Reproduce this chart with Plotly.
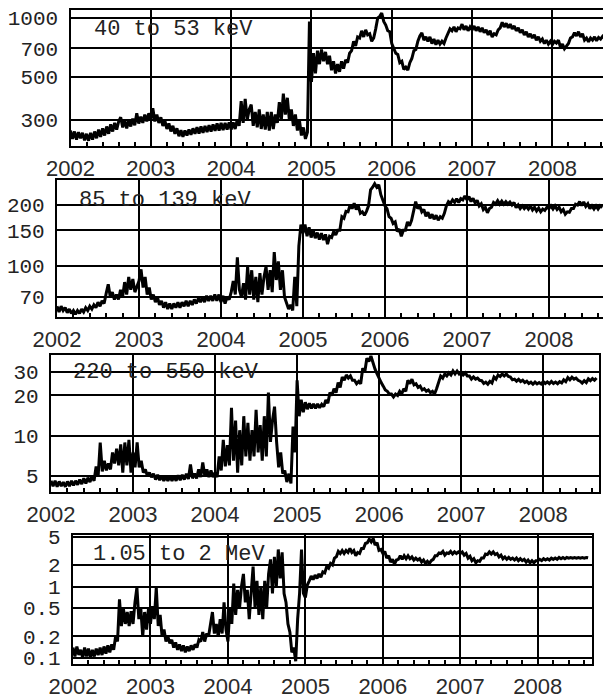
import numpy as np
import plotly.graph_objects as go

# Electron flux time series, 40 samples per year starting 2002.0
SAMPLES_PER_YEAR = 40

flux_40_53keV = [
    # 2002
    265, 240, 262, 238, 260, 242, 258, 236, 255, 235,
    258, 238, 262, 242, 268, 246, 272, 250, 278, 255,
    285, 262, 290, 268, 295, 310, 275, 298, 272, 300,
    278, 305, 282, 325, 288, 312, 290, 320, 295, 325,
    # 2003
    300, 345, 295, 320, 290, 310, 280, 298, 270, 288,
    262, 280, 255, 272, 248, 266, 246, 265, 250, 268,
    252, 272, 255, 276, 256, 278, 258, 280, 260, 282,
    262, 285, 264, 288, 265, 290, 266, 290, 268, 292,
    # 2004
    268, 292, 270, 300, 280, 375, 290, 385, 300, 340,
    360, 280, 330, 275, 340, 270, 320, 268, 330, 265,
    330, 270, 320, 290, 370, 300, 410, 320, 390, 300,
    340, 280, 320, 265, 300, 250, 275, 240, 260, 960,
    # 2005
    470, 660, 520, 680, 580, 690, 600, 670, 580, 640,
    540, 600, 520, 580, 530, 600, 550, 610, 590, 660,
    680, 760, 720, 800, 790, 860, 800, 870, 820, 830,
    760, 790, 880, 1000, 1020, 1060, 960, 920, 860, 850,
    # 2006
    740, 700, 660, 650, 590, 600, 545, 560, 540, 590,
    620, 680, 690, 760, 810, 840, 770, 800, 760, 800,
    740, 780, 730, 770, 735, 760, 740, 790, 830, 880,
    860, 900, 850, 890, 880, 930, 870, 910, 860, 900,
    # 2007
    870, 910, 860, 900, 850, 890, 840, 870, 820, 860,
    800, 830, 820, 870, 890, 950, 900, 940, 890, 930,
    880, 910, 860, 890, 840, 870, 820, 850, 800, 830,
    790, 820, 770, 800, 760, 780, 740, 770, 735, 760,
    # 2008
    730, 760, 745, 770, 710, 735, 695, 720, 740, 790,
    800, 840, 810, 850, 800, 830, 770, 790, 755, 790,
    770, 800, 765, 795, 780, 805, 785,
]

flux_85_139keV = [
    # 2002
    63, 59, 63, 60, 62, 58.5, 61, 58, 60, 57.5,
    60, 58, 61, 59, 62, 60, 63, 61, 64, 62,
    66, 63, 67, 65, 73, 81, 70, 74, 68, 72,
    68, 76, 70, 83, 72, 88, 76, 86, 74, 80,
    # 2003
    84, 96, 78, 88, 72, 78, 68, 72, 66, 70,
    64, 67, 62, 66, 61, 65, 61, 65, 62, 66,
    62, 66, 63, 67, 63, 67, 64, 68, 65, 69,
    66, 70, 66, 71, 67, 71, 67, 72, 67, 72,
    # 2004
    66, 71, 65, 70, 68, 74, 84, 72, 110, 76,
    70, 82, 68, 99, 72, 95, 68, 88, 66, 92,
    72, 88, 99, 76, 95, 74, 117, 85, 105, 76,
    95, 70, 66, 61, 64, 60, 88, 63, 125, 160,
    # 2005
    145, 160, 140, 155, 138, 150, 137, 146, 135, 145,
    134, 143, 128, 140, 138, 148, 142, 150, 150, 175,
    172, 186, 185, 200, 192, 204, 190, 198, 182, 185,
    178, 186, 198, 238, 245, 255, 245, 252, 225, 210,
    # 2006
    198, 192, 175, 172, 162, 165, 148, 152, 140, 150,
    150, 165, 158, 168, 188, 208, 192, 198, 185, 190,
    176, 184, 172, 180, 170, 178, 168, 175, 172, 182,
    198, 208, 204, 212, 206, 215, 206, 215, 212, 222,
    # 2007
    212, 220, 208, 216, 205, 211, 198, 203, 190, 195,
    183, 192, 195, 206, 202, 210, 202, 209, 202, 208,
    202, 207, 200, 206, 194, 200, 192, 198, 192, 197,
    191, 198, 189, 195, 187, 193, 185, 191, 188, 195,
    # 2008
    192, 198, 191, 198, 190, 195, 185, 190, 180, 185,
    184, 192, 192, 202, 200, 208, 199, 207, 197, 203,
    192, 198, 191, 198, 191, 198, 194,
]

flux_220_550keV = [
    # 2002
    4.6, 4.2, 4.6, 4.15, 4.55, 4.2, 4.5, 4.15, 4.55, 4.2,
    4.6, 4.25, 4.6, 4.3, 4.7, 4.35, 4.8, 4.4, 4.85, 4.5,
    5.0, 4.6, 5.9, 5.0, 8.9, 5.4, 6.5, 5.5, 6.2, 5.6,
    7.5, 6.2, 8.0, 6.0, 8.6, 5.3, 8.9, 6.0, 9.3, 5.3,
    # 2003
    7.5, 5.8, 8.9, 5.8, 6.5, 5.3, 5.6, 5.0, 5.3, 4.9,
    5.2, 4.7, 5.1, 4.65, 5.0, 4.6, 4.95, 4.6, 5.0, 4.6,
    5.0, 4.6, 5.05, 4.65, 5.1, 4.7, 5.2, 4.75, 6.1, 4.8,
    5.2, 4.8, 5.6, 4.9, 6.3, 5.0, 5.6, 4.9, 5.5, 4.9,
    # 2004
    5.3, 4.9, 7.0, 5.5, 9.3, 5.9, 8.5, 6.0, 16.2, 6.5,
    13.0, 5.3, 11.0, 6.0, 14.0, 7.0, 12.5, 6.5, 11.0, 7.0,
    15.6, 7.5, 12.0, 6.5, 14.0, 7.0, 21.0, 9.0, 13.0, 16.5,
    9.0, 5.8, 7.5, 5.2, 5.5, 4.5, 5.2, 4.4, 11.7, 7.5,
    # 2005
    26.0, 14.0, 18.6, 15.0, 17.8, 15.8, 17.5, 16.0, 17.3, 16.0,
    17.3, 16.2, 17.2, 16.5, 18.5, 17.5, 21.0, 20.0, 22.5, 21.0,
    25.0, 23.0, 27.5, 26.0, 28.5, 27.0, 28.0, 26.0, 26.0, 24.5,
    25.5, 24.5, 32.0, 30.0, 38.0, 36.0, 39.5, 35.0, 31.5, 29.0,
    # 2006
    26.5, 25.0, 23.5, 22.0, 21.5, 20.5, 20.5, 19.5, 20.5, 20.0,
    21.5, 20.5, 22.5, 21.5, 26.0, 24.5, 26.5, 24.0, 24.5, 23.0,
    23.5, 22.0, 22.5, 21.5, 22.0, 21.0, 21.5, 20.5, 22.5, 25.5,
    28.0, 27.0, 29.0, 28.0, 29.5, 28.5, 30.5, 29.0, 30.5, 29.0,
    # 2007
    30.0, 28.5, 29.5, 28.0, 28.0, 26.5, 27.5, 26.5, 27.0, 26.0,
    25.8, 24.6, 25.2, 24.3, 25.5, 24.8, 27.5, 26.5, 28.5, 27.8,
    29.0, 28.0, 29.0, 27.8, 27.5, 26.2, 26.5, 25.6, 26.4, 25.4,
    26.0, 25.0, 25.6, 24.6, 25.2, 24.3, 25.2, 24.4, 25.0, 24.4,
    # 2008
    25.4, 24.6, 25.3, 24.5, 25.5, 24.6, 25.2, 24.5, 25.4, 24.8,
    26.2, 25.4, 27.2, 26.2, 27.4, 26.5, 27.0, 26.0, 25.6, 24.8,
    25.8, 25.0, 26.6, 25.8, 26.8, 26.0, 27.0,
]

flux_1_05_2MeV = [
    # 2002
    0.14, 0.105, 0.145, 0.11, 0.13, 0.1, 0.14, 0.105, 0.135, 0.1,
    0.13, 0.105, 0.135, 0.11, 0.14, 0.11, 0.145, 0.115, 0.15, 0.12,
    0.155, 0.13, 0.2, 0.17, 0.66, 0.28, 0.5, 0.3, 0.44, 0.28,
    0.45, 0.3, 0.6, 0.97, 0.35, 0.5, 0.2, 0.44, 0.25, 0.5,
    # 2003
    0.3, 0.53, 0.35, 0.97, 0.28, 0.4, 0.2, 0.25, 0.17, 0.2,
    0.16, 0.18, 0.14, 0.165, 0.13, 0.155, 0.125, 0.15, 0.12, 0.145,
    0.125, 0.15, 0.13, 0.155, 0.14, 0.18, 0.17, 0.23, 0.17, 0.22,
    0.2, 0.3, 0.44, 0.22, 0.3, 0.2, 0.35, 0.22, 0.6, 0.25,
    # 2004
    0.17, 0.5, 0.3, 1.1, 0.4, 0.9, 0.5, 1.0, 1.5, 0.6,
    0.9, 0.35, 0.8, 1.9, 0.5, 1.2, 0.4, 1.0, 0.35, 1.2,
    0.5, 1.5, 2.4, 0.8, 2.6, 1.0, 3.3, 1.3, 3.0, 0.8,
    0.6, 0.3, 0.23, 0.12, 0.14, 0.09, 0.35, 0.8, 3.3, 0.8,
    # 2005
    0.7, 1.05, 1.2, 1.4, 1.25, 1.45, 1.3, 1.5, 1.35, 1.6,
    1.55, 1.9, 1.8, 2.1, 2.0, 2.5, 2.6, 3.1, 2.9, 3.2,
    2.9, 3.2, 3.0, 3.4, 3.0, 3.2, 2.7, 3.0, 2.9, 3.4,
    3.4, 4.0, 4.1, 4.6, 4.2, 4.7, 3.8, 4.1, 3.2, 3.3,
    # 2006
    2.9, 3.1, 2.5, 2.7, 2.2, 2.4, 2.05, 2.35, 2.4, 2.7,
    2.4, 2.7, 2.45, 2.7, 2.45, 2.6, 2.35, 2.5, 2.35, 2.45,
    2.2, 2.35, 2.1, 2.25, 2.1, 2.3, 2.4, 2.7, 2.7, 2.95,
    2.9, 3.1, 2.75, 2.95, 2.9, 3.1, 2.85, 3.05, 2.9, 3.05,
    # 2007
    2.9, 3.05, 2.75, 2.9, 2.5, 2.65, 2.3, 2.45, 2.15, 2.3,
    2.25, 2.5, 2.5, 2.85, 2.8, 3.05, 2.85, 3.05, 2.8, 2.9,
    2.6, 2.75, 2.45, 2.6, 2.4, 2.55, 2.4, 2.5, 2.35, 2.5,
    2.3, 2.45, 2.3, 2.4, 2.2, 2.35, 2.15, 2.3, 2.15, 2.3,
    # 2008
    2.3, 2.4, 2.3, 2.45, 2.35, 2.45, 2.35, 2.5, 2.4, 2.5,
    2.4, 2.55, 2.45, 2.55, 2.45, 2.55, 2.5, 2.55, 2.5, 2.55,
    2.5, 2.55, 2.5, 2.55, 2.5, 2.55, 2.52,
]

channel_labels = ["40 to 53 keV", "85 to 139 keV", "220 to 550 keV", "1.05 to 2 MeV"]

y_ticks_40keV = [300, 500, 700, 1000]
y_ticks_85keV = [70, 100, 150, 200]
y_ticks_220keV = [5, 10, 20, 30]
y_ticks_1MeV = [0.1, 0.2, 0.5, 1, 2, 5]
y_ticklabels_1MeV = ["0.1", "0.2", "0.5", "1", "2", "5"]

W, H = 603, 699

# Panel geometry in pixels: left, right, top, bottom, x end, log10 y-range
panels = [
    dict(series=flux_40_53keV, yticks=y_ticks_40keV, ytext=[str(v) for v in y_ticks_40keV],
         px=(70.5, 603, 10, 146), xend=2008.63, yr=(2.344, 3.041), right=False, lab=(93, 29)),
    dict(series=flux_85_139keV, yticks=y_ticks_85keV, ytext=[str(v) for v in y_ticks_85keV],
         px=(57, 603, 180, 317), xend=2008.66, yr=(1.746, 2.425), right=False, lab=(78, 200)),
    dict(series=flux_220_550keV, yticks=y_ticks_220keV, ytext=[str(v) for v in y_ticks_220keV],
         px=(51, 599, 355, 492), xend=2008.68, yr=(0.579, 1.604), right=True, lab=(72, 372)),
    dict(series=flux_1_05_2MeV, yticks=y_ticks_1MeV, ytext=y_ticklabels_1MeV,
         px=(73, 592, 535, 664), xend=2008.70, yr=(-1.084, 0.721), right=True, lab=(92, 554)),
]

fig = go.Figure()
layout = dict(
    width=W, height=H, margin=dict(l=0, r=0, t=0, b=0, autoexpand=False),
    paper_bgcolor="white", plot_bgcolor="white", showlegend=False,
    annotations=[],
)

for i, p in enumerate(panels, start=1):
    xs = "" if i == 1 else str(i)
    series = p["series"]
    t = 2002 + np.arange(len(series)) / SAMPLES_PER_YEAR
    fig.add_trace(go.Scatter(
        x=t, y=series, mode="lines",
        line=dict(color="black", width=3),
        xaxis="x" + xs, yaxis="y" + xs, hoverinfo="skip",
    ))
    l, r, top, bot = p["px"]
    layout["xaxis" + xs] = dict(
        domain=[l / W, r / W], range=[2002.0, p["xend"]], anchor="y" + xs,
        tickmode="linear", tick0=2002, dtick=1, tickformat="d",
        showgrid=True, gridcolor="black", gridwidth=1.6,
        showline=True, linecolor="black", linewidth=2.2, mirror=True,
        ticks="", zeroline=False, ticklabelstandoff=1, automargin=False,
        tickfont=dict(family="Liberation Sans", size=22, color="#2a2a2a"),
        minor=dict(tick0=2002, dtick=0.2, ticks="inside", ticklen=4,
                   tickwidth=1.5, tickcolor="black", showgrid=False),
    )
    layout["yaxis" + xs] = dict(
        domain=[1 - bot / H, 1 - top / H], type="log", range=list(p["yr"]),
        anchor="x" + xs, tickmode="array", tickvals=p["yticks"], ticktext=p["ytext"],
        showgrid=True, gridcolor="black", gridwidth=1.6,
        showline=True, linecolor="black", linewidth=2.2, mirror=p["right"],
        ticks="", zeroline=False, ticklabelstandoff=6, automargin=False,
        tickfont=dict(family="Liberation Mono", size=21, color="#222"),
    )
    lx, ly = p["lab"]
    layout["annotations"].append(dict(
        text=channel_labels[i - 1], xref="paper", yref="paper",
        x=lx / W, y=1 - ly / H, xanchor="left", yanchor="middle",
        showarrow=False, borderpad=0,
        font=dict(family="Liberation Mono", size=22, color="#222"),
    ))

fig.update_layout(**layout)
fig.write_html(
    "out.html",
    config={"displayModeBar": False},
    post_script="document.body.style.margin='0';",
)
